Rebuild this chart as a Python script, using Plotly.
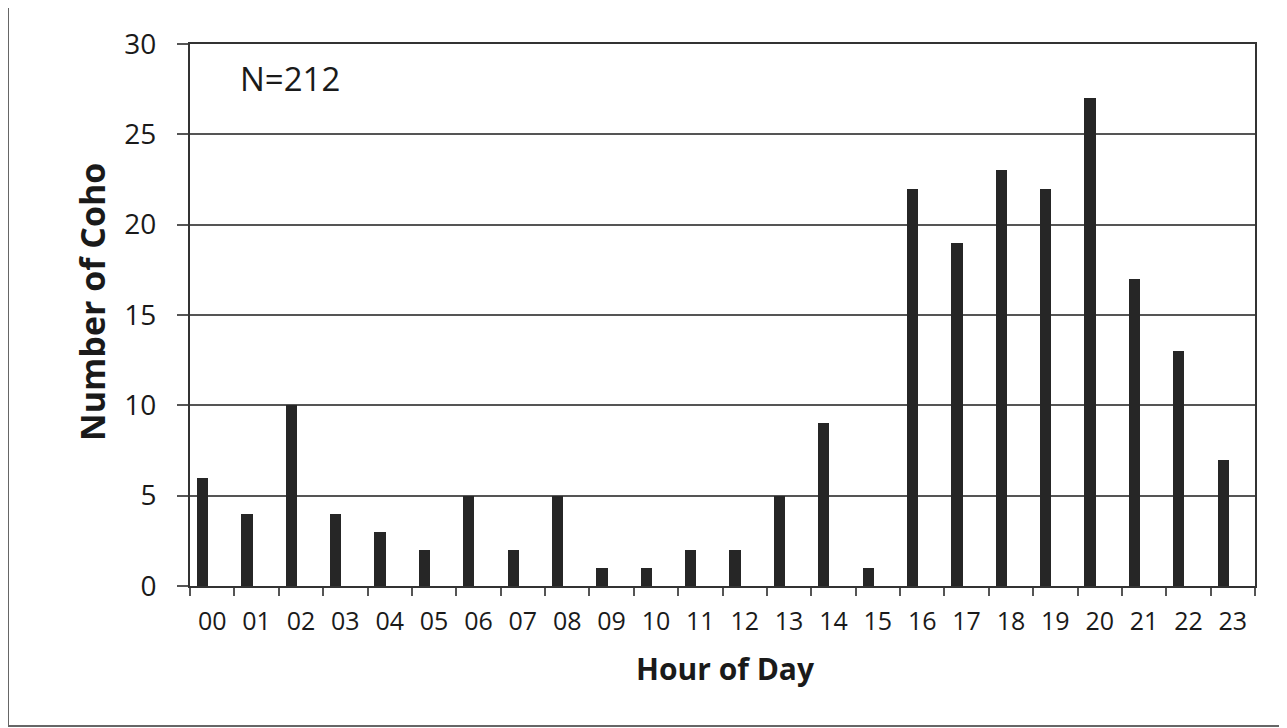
import plotly.graph_objects as go

hours = ["00", "01", "02", "03", "04", "05", "06", "07", "08", "09", "10", "11",
         "12", "13", "14", "15", "16", "17", "18", "19", "20", "21", "22", "23"]
counts = [6, 4, 10, 4, 3, 2, 5, 2, 5, 1, 1, 2, 2, 5, 9, 1, 22, 19, 23, 22, 27, 17, 13, 7]
y_ticks = [0, 5, 10, 15, 20, 25, 30]
note_text = "N=212"
x_title = "Hour of Day"
y_title = "Number of Coho"

FONT = "Open Sans"
OFF = 8  # browser body margin
W, H = 1287 - OFF, 728 - OFF
# screen-pixel plot area: x 190..1255, y 44..586
L, R, T, B = 190 - OFF, (1287 - OFF) - (1255 - OFF), 44 - OFF, (728 - OFF) - (586 - OFF)
pw, ph = W - L - R, H - T - B

def px_x(x):
    return (x - OFF - L) / pw

def px_y(y):
    return (H - B - (y - OFF)) / ph

fig = go.Figure()
fig.add_trace(go.Bar(
    x=hours, y=counts,
    width=0.255, offset=-0.345,
    marker=dict(color="#262626", line=dict(width=0)),
    hoverinfo="x+y",
))

fig.update_layout(
    width=W, height=H,
    margin=dict(l=L, r=R, t=T, b=B),
    paper_bgcolor="white", plot_bgcolor="white",
    showlegend=False,
    font=dict(family=FONT, color="#1a1a1a"),
    bargap=0,
)

fig.update_xaxes(
    type="category", categoryorder="array", categoryarray=hours,
    range=[-0.5, 23.5],
    tickson="boundaries", ticks="outside", ticklen=8, tickwidth=2, tickcolor="#555",
    tickfont=dict(size=25, family=FONT, color="#1a1a1a"),
    ticklabelstandoff=12,
    showline=True, linecolor="#333", linewidth=2, mirror=True,
    showgrid=False, zeroline=False,
)
fig.update_yaxes(
    range=[0, 30], tickvals=y_ticks,
    ticks="outside", ticklen=11, tickwidth=2, tickcolor="#555",
    tickfont=dict(size=28, family=FONT, color="#1a1a1a"),
    ticklabelstandoff=15,
    showline=True, linecolor="#333", linewidth=2, mirror=True,
    showgrid=True, gridcolor="#555", gridwidth=1.6,
    zeroline=False,
)

fig.add_annotation(text=note_text, xref="paper", yref="paper",
                   x=px_x(238), y=px_y(78), xanchor="left", yanchor="middle",
                   showarrow=False, font=dict(size=33, family=FONT, color="#1a1a1a"))
fig.add_annotation(text="<b>" + x_title + "</b>", xref="paper", yref="paper",
                   x=px_x(725), y=px_y(668), xanchor="center", yanchor="middle",
                   showarrow=False, font=dict(size=30, family=FONT, color="#1a1a1a"))
fig.add_annotation(text="<b>" + y_title + "</b>", xref="paper", yref="paper",
                   x=px_x(92), y=px_y(302), xanchor="center", yanchor="middle",
                   textangle=-90,
                   showarrow=False, font=dict(size=34, family=FONT, color="#1a1a1a"))

fig.add_shape(type="rect", xref="paper", yref="paper",
              x0=px_x(8), y0=px_y(726), x1=px_x(1300), y1=px_y(6),
              line=dict(color="#666", width=2), fillcolor="rgba(0,0,0,0)", layer="below")

fig.write_html("out.html")
